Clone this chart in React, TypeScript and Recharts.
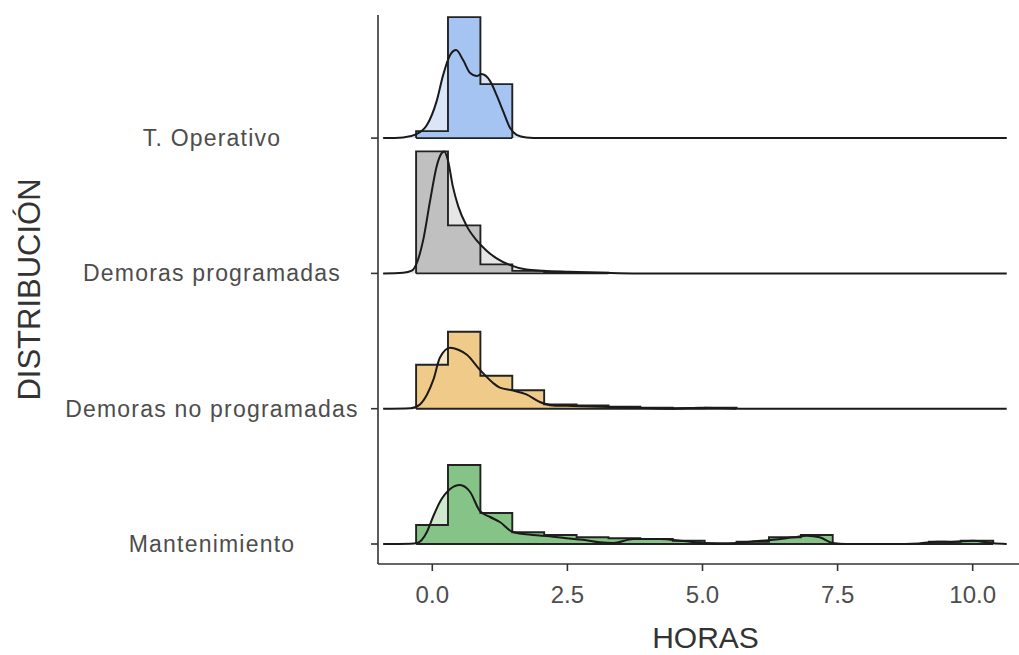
import { ComposedChart, Area, Line, XAxis, YAxis } from 'recharts';

// ridge rows, bottom to top
const CATEGORIES = ['Mantenimiento', 'Demoras no programadas', 'Demoras programadas', 'T. Operativo'];
const X_TICKS = [0, 2.5, 5, 7.5, 10];

// histogram bin edges (hours)
const BIN_EDGES = [-0.3, 0.29, 0.89, 1.48, 2.07, 2.67, 3.26, 3.85, 4.45, 5.04, 5.63, 6.23, 6.82, 7.41, 8.0, 8.6, 9.19, 9.78, 10.38];

// histogram heights per bin (scaled density)
const histOperativo = [7, 121, 54];
const histProgramadas = [122, 48, 9, 2.5, 1, 0.7];
const histNoProgramadas = [44, 77, 33, 18.5, 4.3, 3.3, 2, 1, 0.5, 1];
const histMantenimiento = [19, 79, 31, 11.7, 9, 6.7, 5.7, 5, 3.3, 0.7, 2.3, 6.7, 9, 0, 0, 0, 2.3, 3.3];

// density curves
const densOperativoX = [-0.91, -0.54, -0.29, -0.1, 0.08, 0.2, 0.33, 0.44, 0.57, 0.7, 0.82, 0.91, 1.07, 1.19, 1.31, 1.44, 1.56, 1.74, 2.0, 10.63];
const densOperativoY = [0, 0.7, 4, 13, 37, 63, 83, 88, 78, 65, 62, 64, 57, 43, 27, 10, 3.3, 0.7, 0, 0];

const densProgramadasX = [-0.91, -0.54, -0.38, -0.29, -0.17, -0.04, 0.08, 0.17, 0.22, 0.29, 0.38, 0.48, 0.64, 0.82, 1.0, 1.19, 1.44, 1.74, 2.05, 2.54, 3.16, 3.8, 10.63];
const densProgramadasY = [0, 0.7, 2.7, 10, 33, 73, 107, 120, 122, 113, 87, 67, 47, 33, 23, 15, 8.3, 4, 2.7, 1.7, 0.7, 0, 0];

const densNoProgramadasX = [-0.91, -0.4, -0.23, -0.1, 0.02, 0.14, 0.33, 0.48, 0.64, 0.88, 1.12, 1.25, 1.49, 1.74, 1.99, 2.23, 2.6, 3.1, 3.72, 4.34, 4.95, 5.32, 5.7, 10.63];
const densNoProgramadasY = [0, 0.5, 4.3, 14, 29, 51, 61, 59, 54, 39, 26, 21, 18.3, 14.3, 6.7, 3.3, 2.7, 2, 1, 0, 1, 0.7, 0, 0];

const densMantenimientoX = [-0.91, -0.4, -0.28, -0.1, 0.02, 0.14, 0.33, 0.51, 0.7, 0.88, 1.07, 1.25, 1.49, 1.86, 2.17, 2.48, 2.79, 3.1, 3.35, 3.72, 4.21, 4.64, 5.08, 5.38, 5.88, 6.31, 6.68, 6.93, 7.17, 7.41, 7.66, 8.5, 9.0, 9.35, 9.6, 10.0, 10.37, 10.63];
const densMantenimientoY = [0, 0.3, 1, 12, 28, 42, 55, 59, 52, 33, 27, 22, 12, 9, 7.7, 5.7, 4.3, 1.7, 1, 5, 5, 3, 0.7, 0, 2.3, 4.3, 6.7, 8.3, 6.7, 1, 0, 0, 0.5, 2.3, 2, 3.3, 0.7, 0];

const STEP = 135.3;
const FONT = '"Liberation Sans", Arial, sans-serif';

const ridges = [
  { hist: histMantenimiento, dx: densMantenimientoX, dy: densMantenimientoY, fill: '#86c387', light: '#cfe8cf' },
  { hist: histNoProgramadas, dx: densNoProgramadasX, dy: densNoProgramadasY, fill: '#f0ca88', light: '#f8e6c6' },
  { hist: histProgramadas, dx: densProgramadasX, dy: densProgramadasY, fill: '#c0c0c0', light: '#e6e6e6' },
  { hist: histOperativo, dx: densOperativoX, dy: densOperativoY, fill: '#a6c4f2', light: '#dae5f8' },
].map((r, i) => {
  const base = i * STEP;
  const hist = [{ x: BIN_EDGES[0], v: [base, base] }];
  r.hist.forEach((h, j) => hist.push({ x: BIN_EDGES[j], v: [base, base + h] }));
  hist.push({ x: BIN_EDGES[r.hist.length], v: [base, base] });
  const dens = r.dx.map((x, j) => ({ x, v: [base, base + r.dy[j]], y: base + r.dy[j] }));
  return { ...r, hist, dens };
});

const RowTick = (props: any) => {
  const idx = Math.round(props.payload.value / STEP);
  return (
    <text x={212} y={props.y} textAnchor="middle" dominantBaseline="central"
      fontSize={23} letterSpacing={1.2} fill="#4d4d4d">
      {CATEGORIES[idx]}
    </text>
  );
};

const YTitle = (props: any) => {
  const vb = props.viewBox || { y: 15, height: 549 };
  const cy = vb.y + vb.height / 2;
  return (
    <text x={40} y={cy} transform={`rotate(-90 40 ${cy})`} textAnchor="middle"
      fontSize={31} fill="#333">
      DISTRIBUCIÓN
    </text>
  );
};

export default function App() {
  return (
    <div style={{ position: 'absolute', left: 0, top: 0, width: 1019, height: 655, background: '#fff', fontFamily: FONT }}>
      <ComposedChart width={1019} height={655} margin={{ top: 15, right: 0, bottom: 0, left: 0 }}>
        <XAxis dataKey="x" type="number" domain={[-1.005, 10.857]} allowDataOverflow ticks={X_TICKS}
          tickFormatter={(v: number) => v.toFixed(1)} height={91} tickSize={7} tickMargin={15}
          axisLine={{ stroke: '#333', strokeWidth: 1.6 }} tickLine={{ stroke: '#333', strokeWidth: 1.6 }}
          tick={{ fontSize: 24, fill: '#4d4d4d' }}
          label={{ value: 'HORAS', position: 'insideBottom', offset: 7, dx: 7, fontSize: 30, fill: '#333' }} />
        <YAxis type="number" domain={[-20, 529]} allowDataOverflow ticks={[0, STEP, 2 * STEP, 3 * STEP]}
          interval={0} width={378} tickSize={7} tick={<RowTick />}
          axisLine={{ stroke: '#333', strokeWidth: 1.6 }} tickLine={{ stroke: '#333', strokeWidth: 1.6 }}
          label={<YTitle />} />
        {ridges.map((r, i) => (
          <Area key={`d${i}`} data={r.dens} dataKey="v" type="monotone" stroke="none"
            fill={r.light} fillOpacity={1} isAnimationActive={false} dot={false} activeDot={false} />
        ))}
        {ridges.map((r, i) => (
          <Area key={`h${i}`} data={r.hist} dataKey="v" type="stepAfter" stroke="#222" strokeWidth={1.9}
            fill={r.fill} fillOpacity={1} isAnimationActive={false} dot={false} activeDot={false} />
        ))}
        {ridges.map((r, i) => (
          <Line key={`l${i}`} data={r.dens} dataKey="y" type="monotone" stroke="#1a1a1a" strokeWidth={2}
            dot={false} activeDot={false} isAnimationActive={false} />
        ))}
      </ComposedChart>
    </div>
  );
}
